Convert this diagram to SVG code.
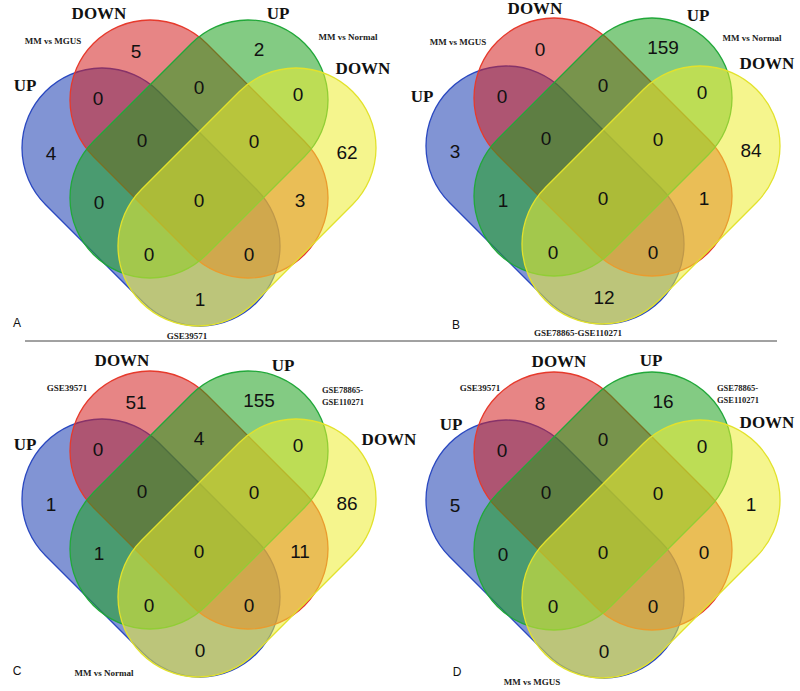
<svg xmlns="http://www.w3.org/2000/svg" xmlns:xlink="http://www.w3.org/1999/xlink" width="800" height="691" viewBox="0 0 800 691">
<style>
.bl{fill:#1a3cb0;fill-opacity:0.55;stroke:#2a48c0;stroke-width:1.3}
.rd{fill:#d42020;fill-opacity:0.55;stroke:#e63a2c;stroke-width:1.3}
.gr{fill:#1ea01e;fill-opacity:0.55;stroke:#22a83a;stroke-width:1.3}
.ye{fill:#ecec30;fill-opacity:0.55;stroke:#e2e22c;stroke-width:1.3}
.n{font-family:"Liberation Sans",Arial,sans-serif;font-size:19px;fill:#111;text-anchor:middle}
.h{font-family:"Liberation Serif","Times New Roman",serif;font-weight:bold;font-size:17px;fill:#111;text-anchor:middle}
.s{font-family:"Liberation Serif","Times New Roman",serif;font-weight:bold;font-size:9px;fill:#222;text-anchor:middle}
.s2{font-family:"Liberation Serif","Times New Roman",serif;font-weight:bold;font-size:8.5px;fill:#222}
.p{font-family:"Liberation Sans",Arial,sans-serif;font-size:12px;fill:#111;text-anchor:middle}
</style>
<defs>
<rect id="cap" x="-149.3" y="-80" width="298.6" height="160" rx="80" ry="80"/>
</defs>
<rect x="0" y="0" width="800" height="691" fill="#fff"/>

<!-- Panel A -->
<g id="panelA">
<g transform="translate(199,200)">
<g id="A-blue"><use xlink:href="#cap" class="bl" transform="translate(-48,-3) rotate(45)"/></g>
<g id="A-red"><use xlink:href="#cap" class="rd" transform="translate(0,-51) rotate(45)"/></g>
<g id="A-green"><use xlink:href="#cap" class="gr" transform="translate(0,-51) rotate(-45)"/></g>
<g id="A-yellow"><use xlink:href="#cap" class="ye" transform="translate(48,-3) rotate(-45)"/></g>
<g id="A-counts">
<text class="n" x="-63" y="-142">5</text>
<text class="n" x="60" y="-144">2</text>
<text class="n" x="-101" y="-95">0</text>
<text class="n" x="0" y="-106">0</text>
<text class="n" x="99" y="-99">0</text>
<text class="n" x="-148" y="-40">4</text>
<text class="n" x="-57" y="-53">0</text>
<text class="n" x="55" y="-52">0</text>
<text class="n" x="148" y="-41">62</text>
<text class="n" x="-100" y="9">0</text>
<text class="n" x="0" y="7">0</text>
<text class="n" x="101" y="7">3</text>
<text class="n" x="-50" y="61">0</text>
<text class="n" x="50" y="61">0</text>
<text class="n" x="1" y="106">1</text>
</g>
</g>
<g id="A-labels">
<text class="h" x="99" y="19">DOWN</text>
<text class="h" x="278" y="19">UP</text>
<text class="h" x="25" y="91">UP</text>
<text class="h" x="363" y="74">DOWN</text>
<text class="s" x="53" y="44">MM vs MGUS</text>
<text class="s" x="348" y="40">MM vs Normal</text>
<text class="s" x="187" y="339">GSE39571</text>
<text class="p" x="17" y="327">A</text>
</g>
</g>

<!-- Panel B -->
<g id="panelB">
<g transform="translate(603,198)">
<g id="B-blue"><use xlink:href="#cap" class="bl" transform="translate(-48,-3) rotate(45)"/></g>
<g id="B-red"><use xlink:href="#cap" class="rd" transform="translate(0,-51) rotate(45)"/></g>
<g id="B-green"><use xlink:href="#cap" class="gr" transform="translate(0,-51) rotate(-45)"/></g>
<g id="B-yellow"><use xlink:href="#cap" class="ye" transform="translate(48,-3) rotate(-45)"/></g>
<g id="B-counts">
<text class="n" x="-63" y="-142">0</text>
<text class="n" x="60" y="-144">159</text>
<text class="n" x="-101" y="-95">0</text>
<text class="n" x="0" y="-106">0</text>
<text class="n" x="99" y="-99">0</text>
<text class="n" x="-148" y="-40">3</text>
<text class="n" x="-57" y="-53">0</text>
<text class="n" x="55" y="-52">0</text>
<text class="n" x="148" y="-41">84</text>
<text class="n" x="-100" y="9">1</text>
<text class="n" x="0" y="7">0</text>
<text class="n" x="101" y="7">1</text>
<text class="n" x="-50" y="61">0</text>
<text class="n" x="50" y="61">0</text>
<text class="n" x="1" y="106">12</text>
</g>
</g>
<g id="B-labels">
<text class="h" x="535" y="14">DOWN</text>
<text class="h" x="698" y="21">UP</text>
<text class="h" x="422" y="102">UP</text>
<text class="h" x="767" y="69">DOWN</text>
<text class="s" x="458" y="45">MM vs MGUS</text>
<text class="s" x="752" y="41">MM vs Normal</text>
<text class="s" x="578" y="336">GSE78865-GSE110271</text>
<text class="p" x="456" y="329">B</text>
</g>
</g>

<line x1="25" y1="341" x2="777" y2="341" stroke="#444" stroke-width="1"/>

<!-- Panel C -->
<g id="panelC">
<g transform="translate(199,551)">
<g id="C-blue"><use xlink:href="#cap" class="bl" transform="translate(-48,-3) rotate(45)"/></g>
<g id="C-red"><use xlink:href="#cap" class="rd" transform="translate(0,-51) rotate(45)"/></g>
<g id="C-green"><use xlink:href="#cap" class="gr" transform="translate(0,-51) rotate(-45)"/></g>
<g id="C-yellow"><use xlink:href="#cap" class="ye" transform="translate(48,-3) rotate(-45)"/></g>
<g id="C-counts">
<text class="n" x="-63" y="-142">51</text>
<text class="n" x="60" y="-144">155</text>
<text class="n" x="-101" y="-95">0</text>
<text class="n" x="0" y="-106">4</text>
<text class="n" x="99" y="-99">0</text>
<text class="n" x="-148" y="-40">1</text>
<text class="n" x="-57" y="-53">0</text>
<text class="n" x="55" y="-52">0</text>
<text class="n" x="148" y="-41">86</text>
<text class="n" x="-100" y="9">1</text>
<text class="n" x="0" y="7">0</text>
<text class="n" x="101" y="7">11</text>
<text class="n" x="-50" y="61">0</text>
<text class="n" x="50" y="61">0</text>
<text class="n" x="1" y="106">0</text>
</g>
</g>
<g id="C-labels">
<text class="h" x="122" y="366">DOWN</text>
<text class="h" x="283" y="371">UP</text>
<text class="h" x="25" y="450">UP</text>
<text class="h" x="389" y="445">DOWN</text>
<text class="s" x="67" y="391">GSE39571</text>
<text class="s2" x="322" y="393">GSE78865-</text>
<text class="s2" x="322" y="405">GSE110271</text>
<text class="s" x="104" y="676">MM vs Normal</text>
<text class="p" x="17" y="675">C</text>
</g>
</g>

<!-- Panel D -->
<g id="panelD">
<g transform="translate(603,552)">
<g id="D-blue"><use xlink:href="#cap" class="bl" transform="translate(-48,-3) rotate(45)"/></g>
<g id="D-red"><use xlink:href="#cap" class="rd" transform="translate(0,-51) rotate(45)"/></g>
<g id="D-green"><use xlink:href="#cap" class="gr" transform="translate(0,-51) rotate(-45)"/></g>
<g id="D-yellow"><use xlink:href="#cap" class="ye" transform="translate(48,-3) rotate(-45)"/></g>
<g id="D-counts">
<text class="n" x="-63" y="-142">8</text>
<text class="n" x="60" y="-144">16</text>
<text class="n" x="-101" y="-95">0</text>
<text class="n" x="0" y="-106">0</text>
<text class="n" x="99" y="-99">0</text>
<text class="n" x="-148" y="-40">5</text>
<text class="n" x="-57" y="-53">0</text>
<text class="n" x="55" y="-52">0</text>
<text class="n" x="148" y="-41">1</text>
<text class="n" x="-100" y="9">0</text>
<text class="n" x="0" y="7">0</text>
<text class="n" x="101" y="7">0</text>
<text class="n" x="-50" y="61">0</text>
<text class="n" x="50" y="61">0</text>
<text class="n" x="1" y="106">0</text>
</g>
</g>
<g id="D-labels">
<text class="h" x="559" y="367">DOWN</text>
<text class="h" x="651" y="366">UP</text>
<text class="h" x="451" y="430">UP</text>
<text class="h" x="767" y="428">DOWN</text>
<text class="s" x="480" y="391">GSE39571</text>
<text class="s2" x="717" y="391">GSE78865-</text>
<text class="s2" x="717" y="403">GSE110271</text>
<text class="s" x="532" y="685">MM vs MGUS</text>
<text class="p" x="457" y="676">D</text>
</g>
</g>
</svg>
